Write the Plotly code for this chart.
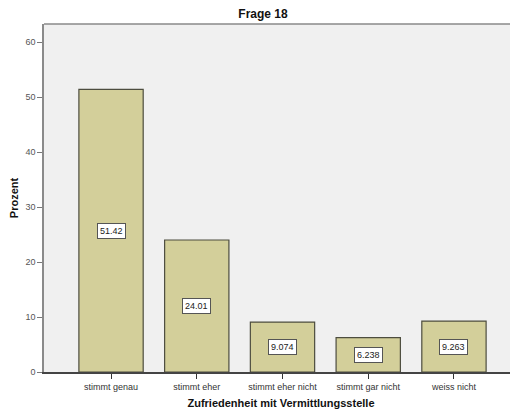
import plotly.graph_objects as go

# Frage 18 - Zufriedenheit mit Vermittlungsstelle
categories = ["stimmt genau", "stimmt eher", "stimmt eher nicht", "stimmt gar nicht", "weiss nicht"]
percent = [51.42, 24.01, 9.074, 6.238, 9.263]
labels = ["51.42", "24.01", "9.074", "6.238", "9.263"]

fig = go.Figure()

fig.add_trace(go.Bar(
    x=list(range(len(categories))),
    y=percent,
    width=0.75,
    marker=dict(color="#d3cf9a", line=dict(color="#4d4d3f", width=1.2)),
    hoverinfo="y",
))

# value labels in white boxes at half bar height
for i, (v, t) in enumerate(zip(percent, labels)):
    fig.add_annotation(
        x=i, y=v / 2, text=t, showarrow=False,
        font=dict(family="Arial, Liberation Sans, sans-serif", size=9, color="#222"),
        bgcolor="white", bordercolor="#555", borderwidth=1, borderpad=2,
    )

# top frame line
fig.add_shape(type="line", xref="paper", yref="paper", x0=0, x1=1, y0=1, y1=1,
              line=dict(color="#8a8a8a", width=1.5))

# page body has an 8px margin, so the figure is a bit smaller than the window
fig.update_layout(
    width=510, height=404,
    margin=dict(l=36, r=0, t=16, b=40),
    paper_bgcolor="white",
    plot_bgcolor="#f0f0f0",
    showlegend=False,
    title=dict(text="<b>Frage 18</b>", x=0.5, xanchor="center", y=0.995, yanchor="top",
               font=dict(family="Arial, Liberation Sans, sans-serif", size=12, color="#111")),
    font=dict(family="Arial, Liberation Sans, sans-serif"),
)

fig.update_xaxes(
    range=[-0.782, 4.747],
    tickmode="array", tickvals=list(range(len(categories))), ticktext=categories,
    tickfont=dict(size=9, color="#333"),
    ticks="outside", ticklen=5, tickcolor="#333",
    showline=True, linecolor="#444", linewidth=2,
    showgrid=False, zeroline=False,
    title=dict(text="<b>Zufriedenheit mit Vermittlungsstelle</b>", standoff=9,
               font=dict(size=11, color="#111")),
)

fig.update_yaxes(
    range=[0, 63.3],
    tickvals=[0, 10, 20, 30, 40, 50, 60],
    tickfont=dict(size=9, color="#555"),
    ticks="outside", ticklen=5, tickcolor="#777",
    showline=True, linecolor="#8a8a8a", linewidth=1.5,
    showgrid=False, zeroline=False,
    title=dict(text="<b>Prozent</b>", standoff=8, font=dict(size=11, color="#111")),
)

fig.write_html("out.html")
